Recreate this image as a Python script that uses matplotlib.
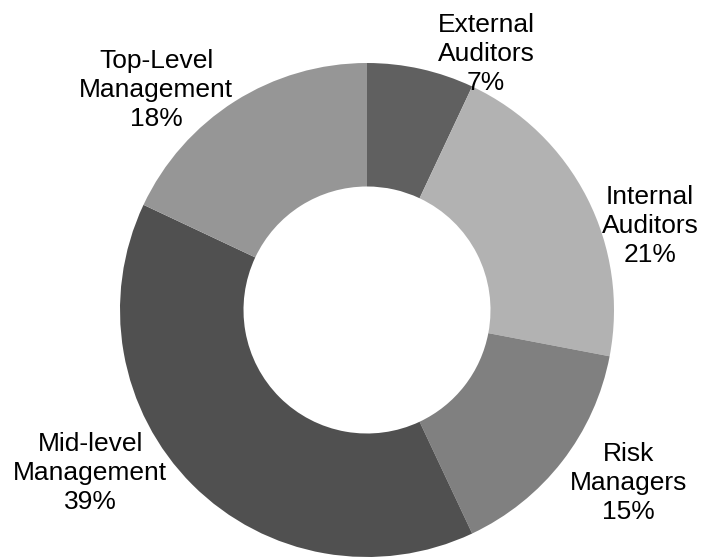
import numpy as np
import matplotlib.pyplot as plt

plt.rcParams['font.family'] = ['Liberation Sans', 'DejaVu Sans']

categories = ['External\nAuditors', 'Internal\nAuditors', 'Risk\nManagers',
              'Mid-level\nManagement', 'Top-Level\nManagement']
shares = [7, 21, 15, 39, 18]
colors = ['#606060', '#b2b2b2', '#808080', '#505050', '#969696']

# label spots (data units, pie radius = 1)
label_xy = [(0.482, 1.036), (1.146, 0.340), (1.057, -0.700),
            (-1.121, -0.660), (-0.854, 0.891)]

fig = plt.figure(figsize=(7.02, 5.58), dpi=100)
ax = fig.add_axes([0, 0, 1, 1])

ax.pie(shares, colors=colors, startangle=90, counterclock=False,
       radius=1.0, wedgeprops=dict(width=0.5, edgecolor='none'))

for name, val, (x, y) in zip(categories, shares, label_xy):
    ax.text(x, y, f'{name}\n{val}%', ha='center', va='center',
            fontsize=19, color='black', linespacing=1.25)

ax.set_aspect('equal', adjustable='datalim')
ax.set_xlim(-367 / 247, (702 - 367) / 247)
ax.set_ylim(-(558 - 310) / 247, 310 / 247)
ax.axis('off')

fig.savefig('out.png', dpi=100)
